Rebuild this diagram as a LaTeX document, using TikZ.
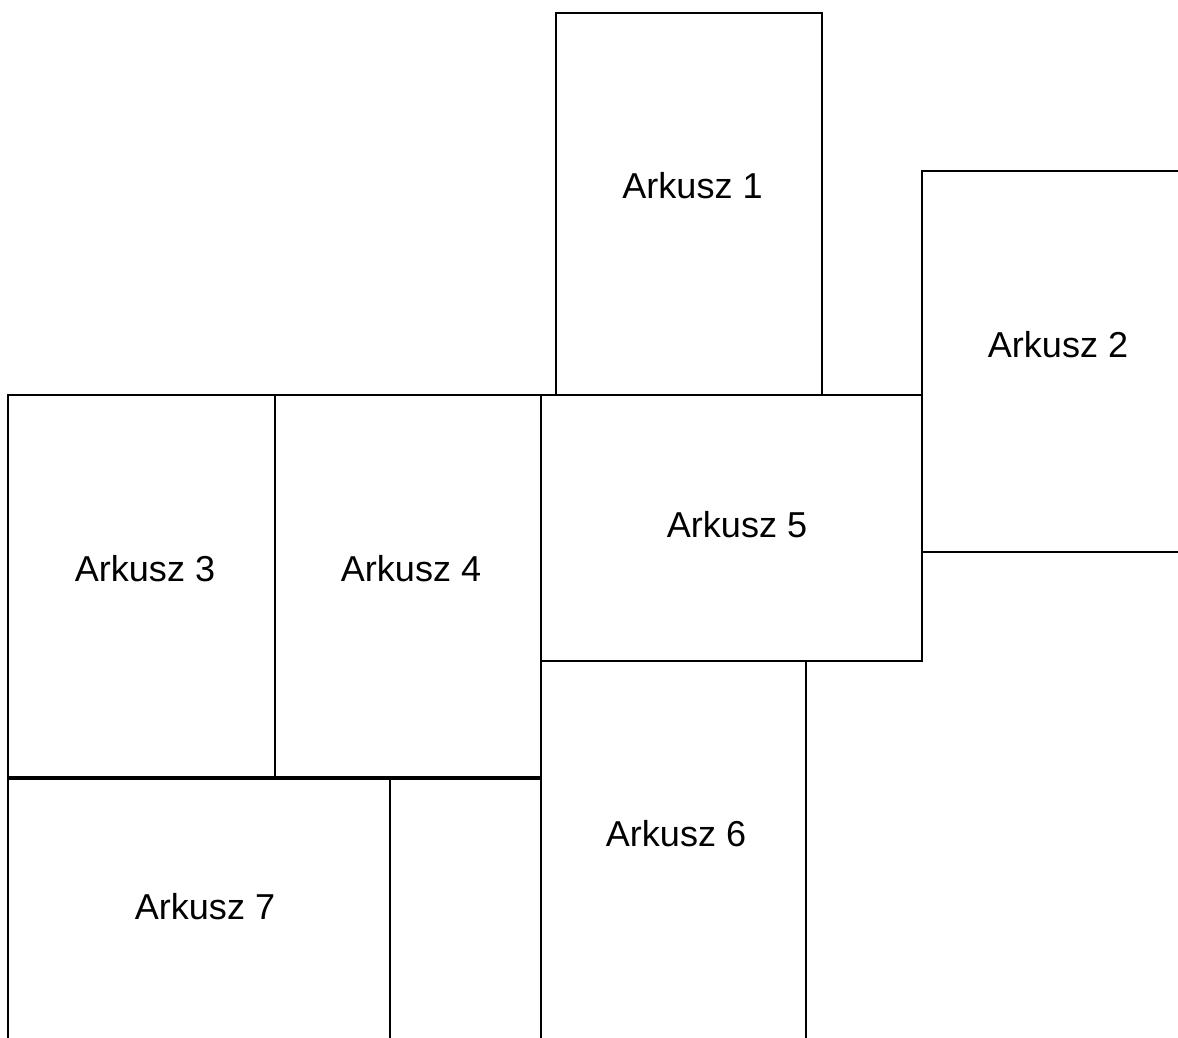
\documentclass[tikz,border=0pt]{standalone}
\usepackage{fontspec}
\setmainfont{Liberation Sans}
\begin{document}
\begin{tikzpicture}[
  arkusz/.style={line width=1.1pt, draw=black, line join=miter},
  napis/.style={font=\fontsize{20.5}{24}\selectfont}]
  \useasboundingbox (0, 0) rectangle (23.56, 20.76);
  \clip (0, 0) rectangle (23.56, 20.76);
  \draw[arkusz] (11.12, 20.5) rectangle (16.44, 12.86); % Arkusz 1
  \draw[arkusz] (18.44, 17.34) rectangle (23.76, 9.72); % Arkusz 2
  \draw[arkusz] (10.82, 12.86) rectangle (18.44, 7.54); % Arkusz 5
  \draw[arkusz] (0.16, 12.86) rectangle (5.5, 5.22);    % Arkusz 3
  \draw[arkusz] (5.5, 12.86) rectangle (10.82, 5.22);   % Arkusz 4
  \draw[arkusz] (0.16, 5.18) rectangle (7.8, -0.14);    % Arkusz 7
  \draw[arkusz] (7.8, 5.18) rectangle (10.82, -0.5);    % pusty pas
  \draw[arkusz] (10.82, 7.54) rectangle (16.12, -0.1);  % Arkusz 6
  \node[napis] (a1) at (13.85, 17.04) {Arkusz 1};
  \node[napis] (a2) at (21.16, 13.86) {Arkusz 2};
  \node[napis] (a3) at (2.9, 9.38) {Arkusz 3};
  \node[napis] (a4) at (8.22, 9.38) {Arkusz 4};
  \node[napis] (a5) at (14.74, 10.26) {Arkusz 5};
  \node[napis] (a6) at (13.52, 4.08) {Arkusz 6};
  \node[napis] (a7) at (4.1, 2.62) {Arkusz 7};
\end{tikzpicture}
\end{document}
